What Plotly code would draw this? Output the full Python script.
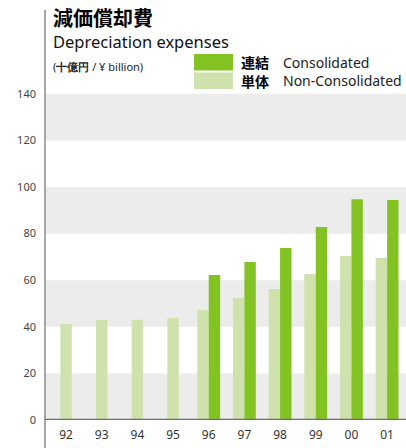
import plotly.graph_objects as go

years = ["92", "93", "94", "95", "96", "97", "98", "99", "00", "01"]
non_consolidated = [41.2, 42.9, 43.0, 43.8, 47.2, 52.4, 56.2, 62.7, 70.4, 69.5]
consolidated = [None, None, None, None, 62.2, 67.8, 73.8, 82.8, 94.8, 94.4]
y_ticks = [0, 20, 40, 60, 80, 100, 120, 140]

DARK = "#82c323"
LIGHT = "#cfe2ad"
BAND = "#ececec"
FONT = "Noto Sans"
CJK = "Noto Sans CJK JP"
BAR_W = 0.32

# single bars are centred, paired bars sit side by side
nc_offset = [-BAR_W / 2 if c is None else -BAR_W for c in consolidated]

fig = go.Figure()
fig.add_trace(
    go.Bar(
        x=list(range(len(years))),
        y=non_consolidated,
        width=BAR_W,
        offset=nc_offset,
        marker=dict(color=LIGHT, line=dict(width=0)),
        name="単体 Non-Consolidated",
    )
)
fig.add_trace(
    go.Bar(
        x=list(range(len(years))),
        y=consolidated,
        width=BAR_W,
        offset=0,
        marker=dict(color=DARK, line=dict(width=0)),
        name="連結 Consolidated",
    )
)

# alternating grey bands
for lo in range(0, 140, 40):
    fig.add_shape(
        type="rect", xref="paper", yref="y", x0=0, x1=1, y0=lo, y1=lo + 20,
        fillcolor=BAND, line=dict(width=0), layer="below",
    )

# axis lines
fig.add_shape(
    type="line", xref="paper", yref="paper", x0=0, x1=0, y0=-28 / 410, y1=1,
    line=dict(color="#8a8a8a", width=1.5),
)
fig.add_shape(
    type="line", xref="paper", yref="y", x0=0, x1=1, y0=0, y1=0,
    line=dict(color="#6e6e6e", width=2.5),
)

# title block
fig.add_annotation(
    text="<b>減価償却費</b>", xref="paper", yref="paper", x=0.018, y=0.981,
    xanchor="left", yanchor="middle", showarrow=False,
    font=dict(family=CJK, size=20, color="#000"),
)
fig.add_annotation(
    text="Depreciation expenses", xref="paper", yref="paper", x=0.018, y=0.923,
    xanchor="left", yanchor="middle", showarrow=False,
    font=dict(family=FONT, size=16.5, color="#111"),
)
fig.add_annotation(
    text="(<b>十億円</b> / ¥ billion)", xref="paper", yref="paper", x=0.018, y=0.863,
    xanchor="left", yanchor="middle", showarrow=False,
    font=dict(family=FONT, size=11, color="#222"),
)

# legend
legend_rows = [(DARK, "連結", "Consolidated", 54, 70.5), (LIGHT, "単体", "Non-Consolidated", 72.5, 89)]
for color, jp, en, top, bot in legend_rows:
    y0 = (420 - bot) / 410
    y1 = (420 - top) / 410
    fig.add_shape(
        type="rect", xref="paper", yref="paper",
        x0=(194 - 45) / 361, x1=(233 - 45) / 361, y0=y0, y1=y1,
        fillcolor=color, line=dict(width=0),
    )
    fig.add_annotation(
        text=f"<b>{jp}</b>", xref="paper", yref="paper", x=(239 - 45) / 361,
        y=(y0 + y1) / 2, xanchor="left", yanchor="middle", showarrow=False,
        font=dict(family=CJK, size=14, color="#000"),
    )
    fig.add_annotation(
        text=en, xref="paper", yref="paper", x=(281 - 45) / 361,
        y=(y0 + y1) / 2, xanchor="left", yanchor="middle", showarrow=False,
        font=dict(family=FONT, size=14, color="#222"),
    )

fig.update_layout(
    width=406,
    height=448,
    margin=dict(l=45, r=0, t=10, b=28),
    paper_bgcolor="white",
    plot_bgcolor="white",
    showlegend=False,
    barmode="overlay",
    font=dict(family=FONT, size=12, color="#444"),
    xaxis=dict(
        range=[-0.59, 9.53],
        tickmode="array",
        tickvals=list(range(len(years))),
        ticktext=years,
        showgrid=False,
        zeroline=False,
        showline=False,
        ticks="",
        ticklabelstandoff=6,
        tickfont=dict(family=FONT, size=12, color="#333"),
    ),
    yaxis=dict(
        range=[0, 176],
        tickmode="array",
        tickvals=y_ticks,
        showgrid=False,
        zeroline=False,
        showline=False,
        ticks="",
        ticklabelstandoff=8,
        tickfont=dict(family=FONT, size=11, color="#444"),
    ),
)

# page body has a default 8px margin; drop it so the figure sits at the corner
fig.write_html(
    "out.html",
    config={"displayModeBar": False},
    post_script="document.body.style.margin='0';document.body.style.overflow='hidden';",
)
